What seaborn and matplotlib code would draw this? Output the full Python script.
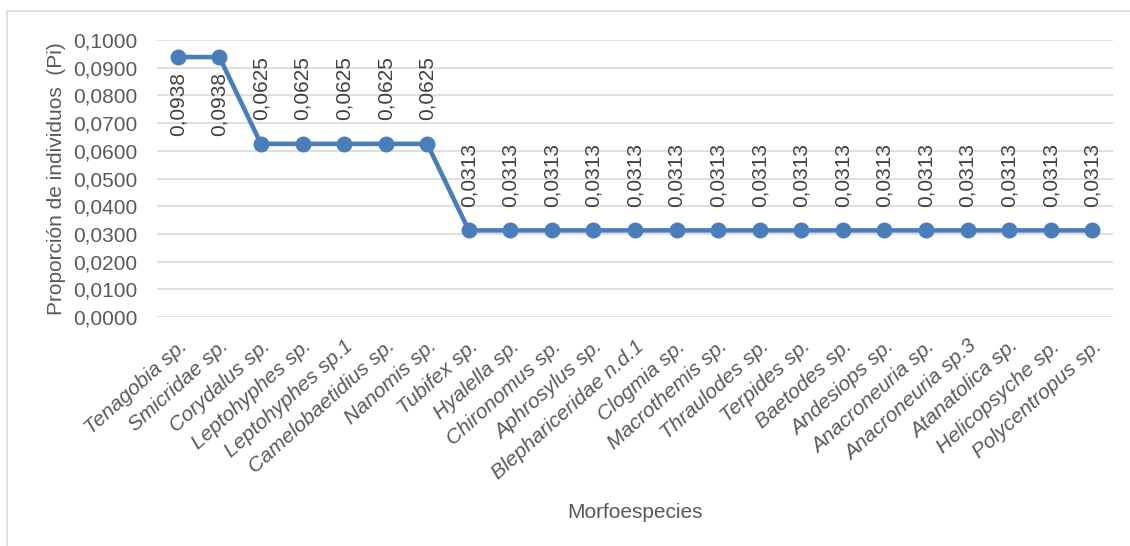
import pandas as pd
import matplotlib.pyplot as plt
import matplotlib.ticker as mticker
from matplotlib.patches import Rectangle
import seaborn as sns

# Morphospecies and their proportion of individuals (Pi)
especies = ["Tenagobia sp.", "Smicridae sp.", "Corydalus sp.", "Leptohyphes sp.",
            "Leptohyphes sp.1", "Camelobaetidius sp.", "Nanomis sp.", "Tubifex sp.",
            "Hyalella sp.", "Chironomus sp.", "Aphrosylus sp.", "Blephariceridae n.d.1",
            "Clogmia sp.", "Macrothemis sp.", "Thraulodes sp.", "Terpides sp.",
            "Baetodes sp.", "Andesiops sp.", "Anacroneuria sp.", "Anacroneuria sp.3",
            "Atanatolica sp.", "Helicopsyche sp.", "Polycentropus sp."]
pi = [0.0938, 0.0938, 0.0625, 0.0625, 0.0625, 0.0625, 0.0625,
      0.0313, 0.0313, 0.0313, 0.0313, 0.0313, 0.0313, 0.0313, 0.0313,
      0.0313, 0.0313, 0.0313, 0.0313, 0.0313, 0.0313, 0.0313, 0.0313]

df = pd.DataFrame({"Morfoespecies": especies, "Pi": pi})

sns.set_style("white")
plt.rcParams['font.family'] = ['Liberation Sans', 'DejaVu Sans']
gris = "#595959"
fs = 15

fig = plt.figure(figsize=(11.3, 5.46), dpi=100)
ax = fig.add_axes([0.139, 0.419, 0.846, 0.508])

sns.lineplot(data=df, x="Morfoespecies", y="Pi", sort=False, ax=ax,
             color="#4A7EBB", linewidth=3.3, marker="o", markersize=11.5,
             markeredgewidth=0, clip_on=False, zorder=3)

ax.set_xlim(-0.5, len(especies) - 0.5)
ax.set_ylim(0, 0.1)
ax.yaxis.set_major_locator(mticker.MultipleLocator(0.01))
ax.yaxis.set_major_formatter(mticker.FuncFormatter(lambda v, p: f"{v:.4f}".replace(".", ",")))
ax.grid(axis="y", color="#d9d9d9", linewidth=1.2)
ax.set_axisbelow(True)
for s in ax.spines.values():
    s.set_visible(False)

ax.tick_params(axis="y", labelsize=fs, labelcolor=gris, length=0, pad=14)
ax.tick_params(axis="x", labelsize=fs, labelcolor=gris, length=0, pad=14)
ax.set_xticks(range(len(especies)))
ax.set_xticklabels(especies, rotation=42, ha="right", va="top",
                   rotation_mode="anchor", style="italic")

ax.set_ylabel("Proporción de individuos  (Pi)", fontsize=fs, color=gris)
ax.yaxis.set_label_coords(-0.0955, 0.5)
ax.set_xlabel("Morfoespecies", fontsize=fs, color=gris)
ax.xaxis.set_label_coords(0.5, -0.671)

# data labels
for i, v in enumerate(pi):
    txt = f"{v:.4f}".replace(".", ",")
    if v > 0.09:
        ax.annotate(txt, (i, v), xytext=(0, -11), textcoords="offset points",
                    rotation=90, ha="center", va="top", fontsize=fs, color="#404040")
    else:
        ax.annotate(txt, (i, v), xytext=(0, 17), textcoords="offset points",
                    rotation=90, ha="center", va="bottom", fontsize=fs, color="#404040")

# outer chart border
fig.patches.append(Rectangle((0.006, -0.01), 1.1, 0.99, transform=fig.transFigure,
                             fill=False, edgecolor="#d9d9d9", linewidth=1.2))

fig.savefig("out.png", dpi=100)
